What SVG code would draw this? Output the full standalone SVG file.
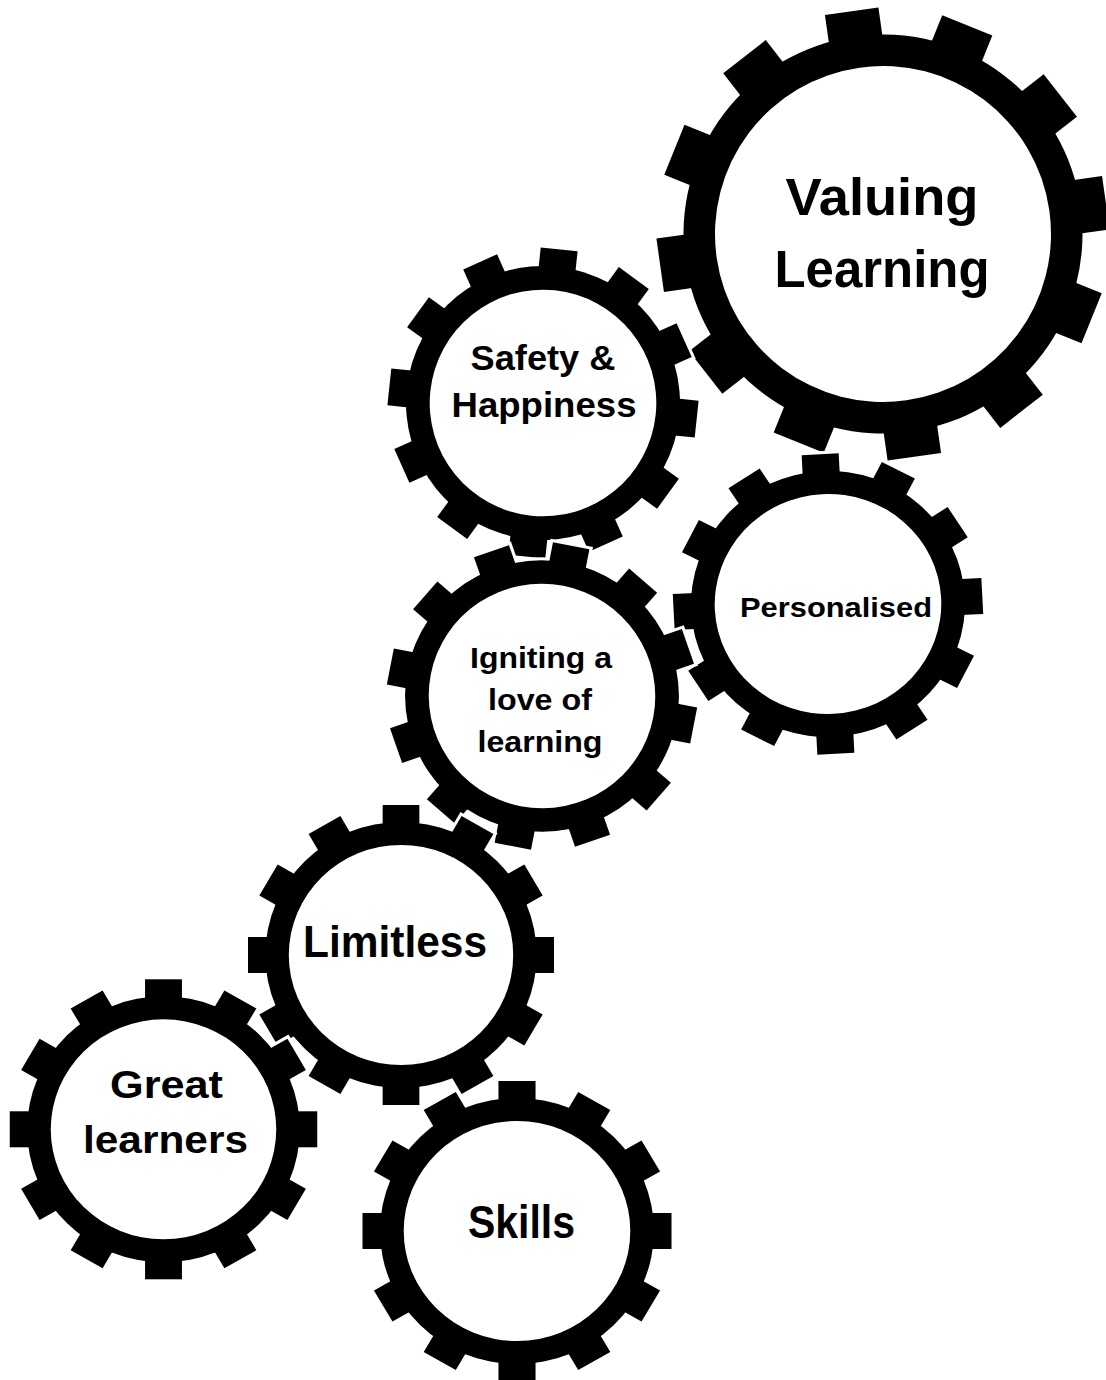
<svg xmlns="http://www.w3.org/2000/svg" xmlns:xlink="http://www.w3.org/1999/xlink" width="1106" height="1380" viewBox="0 0 1106 1380">
<style>
.halo { fill:#fff; stroke:#fff; stroke-width:6; }
.body { fill:#000; stroke:none; }
.hole { fill:#fff; }
text { font-family:"Liberation Sans", Arial, sans-serif; font-weight:bold; fill:#000; text-anchor:middle; }
</style>
<defs>
<g id="sil">
<circle r="133"/>
<rect id="tooth" x="-18" y="-150" width="36" height="32"/>
<use href="#tooth" transform="rotate(30)"/>
<use href="#tooth" transform="rotate(60)"/>
<use href="#tooth" transform="rotate(90)"/>
<use href="#tooth" transform="rotate(120)"/>
<use href="#tooth" transform="rotate(150)"/>
<use href="#tooth" transform="rotate(180)"/>
<use href="#tooth" transform="rotate(210)"/>
<use href="#tooth" transform="rotate(240)"/>
<use href="#tooth" transform="rotate(270)"/>
<use href="#tooth" transform="rotate(300)"/>
<use href="#tooth" transform="rotate(330)"/>
</g>
</defs>
<rect width="1106" height="1380" fill="#fff"/>
<g id="connectors"></g>

<g id="gear-valuing">
<g transform="translate(883,234) rotate(-8) scale(1.5)">
<use href="#sil" class="halo" style="stroke-width:4"/>
<use href="#sil" class="body"/>
<circle class="hole" r="112"/>
</g>
<text x="882" y="215" font-size="51" textLength="193" lengthAdjust="spacingAndGlyphs">Valuing</text>
<text x="882" y="287" font-size="51" textLength="215" lengthAdjust="spacingAndGlyphs">Learning</text>
</g>

<g id="gear-safety">
<g transform="translate(543,403) rotate(6) scale(1.03)">
<use href="#sil" class="halo"/>
<use href="#sil" class="body"/>
<circle class="hole" r="110"/>
</g>
<text x="543" y="370" font-size="35" textLength="145" lengthAdjust="spacingAndGlyphs">Safety &amp;</text>
<text x="544" y="417" font-size="35" textLength="185" lengthAdjust="spacingAndGlyphs">Happiness</text>
</g>

<g id="gear-personalised">
<g transform="translate(828,604) rotate(-3) scale(1.03,1.0)">
<use href="#sil" class="halo"/>
<use href="#sil" class="body"/>
<circle class="hole" r="110"/>
</g>
<text x="836" y="617" font-size="28" textLength="192" lengthAdjust="spacingAndGlyphs">Personalised</text>
</g>

<g id="gear-igniting">
<g transform="translate(542,696) rotate(11) scale(1.03,1.02)">
<use href="#sil" class="halo"/>
<use href="#sil" class="body"/>
<circle class="hole" r="110"/>
</g>
<text x="541" y="668" font-size="30" textLength="142" lengthAdjust="spacingAndGlyphs">Igniting a</text>
<text x="540" y="710" font-size="30" textLength="104" lengthAdjust="spacingAndGlyphs">love of</text>
<text x="540" y="752" font-size="30" textLength="125" lengthAdjust="spacingAndGlyphs">learning</text>
</g>

<g id="gear-limitless">
<g transform="translate(401,955) scale(1.02,1.0)">
<use href="#sil" class="halo"/>
<use href="#sil" class="body"/>
<circle class="hole" r="110"/>
</g>
<text x="395" y="957" font-size="45" textLength="184" lengthAdjust="spacingAndGlyphs">Limitless</text>
</g>

<g id="gear-great">
<g transform="translate(163.5,1129.3) scale(1.025,1.0)">
<use href="#sil" class="halo"/>
<use href="#sil" class="body"/>
<circle class="hole" r="110"/>
</g>
<text x="166.5" y="1098" font-size="39" textLength="113" lengthAdjust="spacingAndGlyphs">Great</text>
<text x="165.5" y="1153" font-size="39" textLength="165" lengthAdjust="spacingAndGlyphs">learners</text>
</g>

<g id="gear-skills">
<g transform="translate(517,1231) scale(1.03,1.0)">
<use href="#sil" class="halo"/>
<use href="#sil" class="body"/>
<circle class="hole" r="110"/>
</g>
<text x="521.5" y="1238" font-size="46" textLength="107" lengthAdjust="spacingAndGlyphs">Skills</text>
</g>
</svg>
